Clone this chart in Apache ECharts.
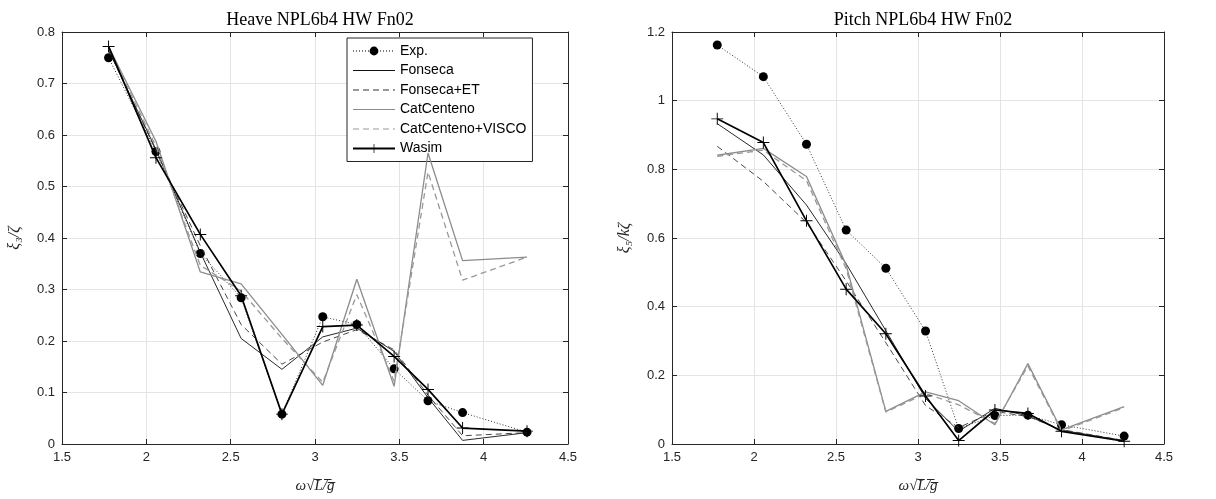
<!DOCTYPE html>
<html>
<head>
<meta charset="utf-8">
<script src="https://cdn.jsdelivr.net/npm/echarts@6/dist/echarts.min.js"></script>
<style>
html,body{margin:0;padding:0;background:#fff;}
#c{width:1216px;height:499px;}
</style>
</head>
<body>
<div id="c"></div>
<script>
// ---- data ----
const freq = [1.776, 2.057, 2.320, 2.562, 2.804, 3.046, 3.248, 3.469, 3.670, 3.875, 4.257];
const seriesNames = ['Exp.', 'Fonseca', 'Fonseca+ET', 'CatCenteno', 'CatCenteno+VISCO', 'Wasim'];
const xTicks = [1.5, 2, 2.5, 3, 3.5, 4, 4.5];

// Heave
const heaveExp       = [0.750, 0.568, 0.370, 0.284, 0.058, 0.247, 0.232, 0.146, 0.084, 0.061, 0.023];
const heaveFonseca   = [0.765, 0.572, 0.372, 0.205, 0.145, 0.208, 0.225, 0.180, 0.090, 0.007, 0.022];
const heaveFonsecaET = [0.765, 0.570, 0.385, 0.232, 0.155, 0.198, 0.222, 0.183, 0.095, 0.016, 0.022];
const heaveCat       = [0.772, 0.588, 0.334, 0.311, 0.213, 0.114, 0.320, 0.112, 0.565, 0.356, 0.363];
const heaveCatVisco  = [0.770, 0.578, 0.347, 0.297, 0.205, 0.120, 0.290, 0.122, 0.528, 0.318, 0.363];
const heaveWasim     = [0.772, 0.556, 0.407, 0.288, 0.058, 0.228, 0.231, 0.170, 0.106, 0.031, 0.025];

// Pitch
const pitchExp       = [1.162, 1.070, 0.873, 0.623, 0.512, 0.329, 0.045, 0.083, 0.084, 0.056, 0.023];
const pitchFonseca   = [0.933, 0.842, 0.696, 0.525, 0.330, 0.133, 0.037, 0.104, 0.082, 0.040, 0.010];
const pitchFonsecaET = [0.867, 0.765, 0.645, 0.475, 0.295, 0.112, 0.048, 0.095, 0.080, 0.042, 0.010];
const pitchCat       = [0.841, 0.861, 0.779, 0.521, 0.095, 0.152, 0.126, 0.056, 0.234, 0.041, 0.109];
const pitchCatVisco  = [0.838, 0.856, 0.767, 0.510, 0.093, 0.147, 0.114, 0.060, 0.227, 0.038, 0.106];
const pitchWasim     = [0.947, 0.878, 0.650, 0.451, 0.321, 0.140, 0.010, 0.099, 0.089, 0.037, 0.008];

// ---- styles ----
const AX = '#262626';
const GRIDC = '#e4e4e4';
const SANS = 'Liberation Sans, Arial, sans-serif';
const SERIF = 'Liberation Serif, DejaVu Serif, serif';
const plus = 'path://M0,4.6H10V5.4H0Z M4.6,0H5.4V10H4.6Z';

const styles = [
  {lineStyle:{color:'#000', width:0.8, type:[1,2]}, symbol:'circle', symbolSize:9, itemStyle:{color:'#000'}},
  {lineStyle:{color:'#111', width:0.9, type:'solid'}, symbol:'none', itemStyle:{color:'#111'}},
  {lineStyle:{color:'#333', width:0.9, type:[6,4]}, symbol:'none', itemStyle:{color:'#333'}},
  {lineStyle:{color:'#8c8c8c', width:1.3, type:'solid'}, symbol:'none', itemStyle:{color:'#8c8c8c'}},
  {lineStyle:{color:'#999', width:1.3, type:[6,4]}, symbol:'none', itemStyle:{color:'#999'}},
  {lineStyle:{color:'#000', width:1.7, type:'solid'}, symbol:plus, symbolSize:12, itemStyle:{color:'#000'}}
];

function zip(ys){ return freq.map((x,i)=>[x, ys[i]]); }

function mkSeries(arrs, gi){
  return arrs.map((ys,k)=>Object.assign({
    type:'line', name:seriesNames[k], xAxisIndex:gi*2, yAxisIndex:gi*2,
    data:zip(ys), showSymbol: styles[k].symbol !== 'none', animation:false, z: 2+k,
    emphasis:{disabled:true}
  }, JSON.parse(JSON.stringify(styles[k])), {symbol: styles[k].symbol}));
}

function xAxes(gi){
  const base = {type:'value', gridIndex:gi, min:1.5, max:4.5, interval:0.5};
  return [
    Object.assign({}, base, {
      position:'bottom',
      axisLine:{show:true, onZero:false, lineStyle:{color:AX, width:1}},
      axisTick:{show:true, inside:true, length:5, lineStyle:{color:AX}},
      axisLabel:{color:AX, fontFamily:SANS, fontSize:13, margin:7},
      splitLine:{show:true, lineStyle:{color:GRIDC, width:1}},
      name:'ω√L̅/̅g̅', nameLocation:'middle', nameGap:35,
      nameTextStyle:{color:AX, fontFamily:SERIF, fontStyle:'italic', fontSize:15}
    }),
    Object.assign({}, base, {
      position:'top',
      axisLine:{show:true, onZero:false, lineStyle:{color:AX, width:1}},
      axisTick:{show:true, inside:true, length:5, lineStyle:{color:AX}},
      axisLabel:{show:false}, splitLine:{show:false}
    })
  ];
}
function yAxes(gi, max, interval, name){
  const base = {type:'value', gridIndex:gi, min:0, max:max, interval:interval};
  return [
    Object.assign({}, base, {
      position:'left',
      axisLine:{show:true, onZero:false, lineStyle:{color:AX, width:1}},
      axisTick:{show:true, inside:true, length:5, lineStyle:{color:AX}},
      axisLabel:{color:AX, fontFamily:SANS, fontSize:13, margin:7},
      splitLine:{show:true, lineStyle:{color:GRIDC, width:1}},
      name:name, nameLocation:'middle', nameGap:39, nameRotate:90,
      nameTextStyle:{color:AX, fontFamily:SERIF, fontStyle:'italic', fontSize:16}
    }),
    Object.assign({}, base, {
      position:'right',
      axisLine:{show:true, onZero:false, lineStyle:{color:AX, width:1}},
      axisTick:{show:true, inside:true, length:5, lineStyle:{color:AX}},
      axisLabel:{show:false}, splitLine:{show:false}
    })
  ];
}

const legendData = seriesNames.map((n,k)=> {
  const item = {name:n, lineStyle:{width: k === 5 ? 2 : 1.2, color: styles[k].lineStyle.color,
    type: styles[k].lineStyle.type}};
  if (styles[k].symbol === 'none') item.itemStyle = {opacity:0};
  return item;
});

const chart = echarts.init(document.getElementById('c'), null, {renderer:'canvas'});
const option = {
  backgroundColor:'#fff',
  animation:false,
  title:[
    {text:'Heave NPL6b4 HW Fn02', left:315, top:6, textAlign:'center',
     textStyle:{fontFamily:SERIF, fontWeight:'normal', fontSize:18, color:'#000'}},
    {text:'Pitch NPL6b4 HW Fn02', left:918, top:6, textAlign:'center',
     textStyle:{fontFamily:SERIF, fontWeight:'normal', fontSize:18, color:'#000'}}
  ],
  grid:[
    {left:62, right:648, top:32, bottom:55},
    {left:672, right:52, top:32, bottom:55}
  ],
  xAxis:[...xAxes(0), ...xAxes(1)],
  yAxis:[...yAxes(0, 0.8, 0.1, 'ξ₃/ζ'), ...yAxes(1, 1.2, 0.2, 'ξ₅/kζ')],
  legend:{
    data:legendData, orient:'vertical', left:347, top:38,
    itemWidth:42, itemHeight:11, itemGap:5.5,
    padding:[6,6,6,5], borderColor:AX, borderWidth:1, backgroundColor:'#fff',
    textStyle:{fontFamily:SANS, fontSize:14, color:'#000'},
    selectedMode:false
  },
  series:[
    ...mkSeries([heaveExp, heaveFonseca, heaveFonsecaET, heaveCat, heaveCatVisco, heaveWasim], 0),
    ...mkSeries([pitchExp, pitchFonseca, pitchFonsecaET, pitchCat, pitchCatVisco, pitchWasim], 1)
  ]
};
chart.setOption(option);
</script>
</body>
</html>
